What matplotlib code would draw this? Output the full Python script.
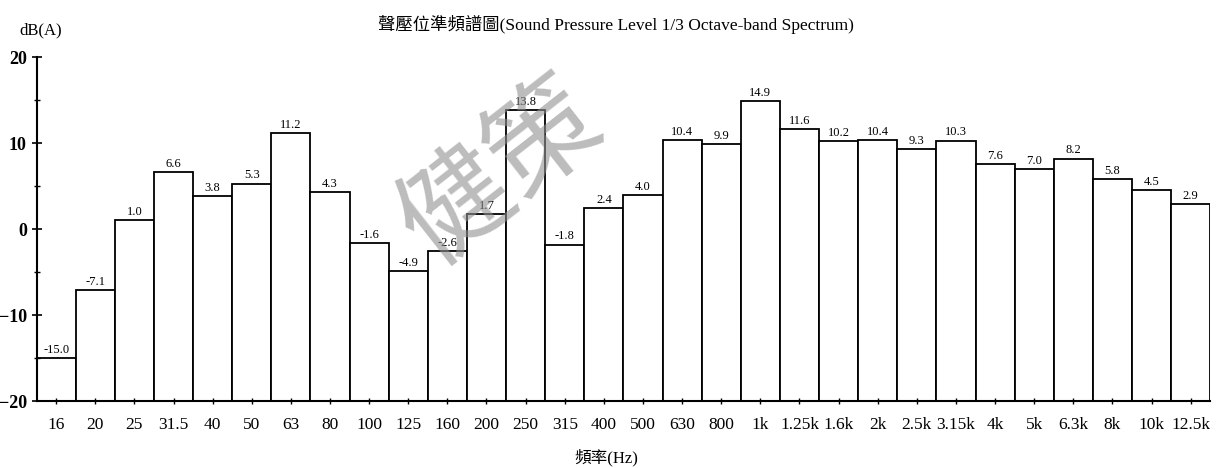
import numpy as np
import matplotlib.pyplot as plt

plt.rcParams['font.family'] = ['Liberation Serif', 'Noto Sans CJK TC']

bands = ['16', '20', '25', '31.5', '40', '50', '63', '80', '100', '125', '160',
         '200', '250', '315', '400', '500', '630', '800', '1k', '1.25k', '1.6k',
         '2k', '2.5k', '3.15k', '4k', '5k', '6.3k', '8k', '10k', '12.5k']
levels = [-15.0, -7.1, 1.0, 6.6, 3.8, 5.3, 11.2, 4.3, -1.6, -4.9, -2.6,
          1.7, 13.8, -1.8, 2.4, 4.0, 10.4, 9.9, 14.9, 11.6, 10.2,
          10.4, 9.3, 10.3, 7.6, 7.0, 8.2, 5.8, 4.5, 2.9]
base = -20

fig = plt.figure(figsize=(12.2, 4.68), dpi=100)
ax = fig.add_axes([0.030, 0.143, 0.962, 0.735])

x = np.arange(len(bands))
h = np.array(levels) - base
ax.bar(x, h, bottom=base, width=1.0, color='white', edgecolor='black', linewidth=1.3)

for xi, v in zip(x, levels):
    ax.text(xi, v + 0.25, f'{v:.1f}', ha='center', va='bottom', fontsize=9)

ax.set_xlim(-0.5, len(bands) - 0.5)
ax.set_ylim(base, 20)
ax.set_yticks([-20, -10, 0, 10, 20])
ax.set_yticks([-15, -5, 5, 15], minor=True)
ax.set_xticks(x)
ax.set_xticklabels(bands, fontsize=12.5)
ax.tick_params(axis='y', labelsize=13, direction='inout', length=7, width=1.2)
ax.tick_params(axis='y', which='minor', direction='inout', length=5, width=1)
ax.tick_params(axis='x', direction='inout', length=5, width=1, pad=9)
for lbl in ax.get_yticklabels():
    lbl.set_fontweight('bold')

ax.spines['top'].set_visible(False)
ax.spines['right'].set_visible(False)
ax.spines['left'].set_linewidth(1.5)
ax.spines['bottom'].set_linewidth(1.5)
ax.spines['left'].set_bounds(-20, 20)

fig.text(0.505, 0.948, '聲壓位準頻譜圖(Sound Pressure Level 1/3 Octave-band Spectrum)',
         ha='center', va='center', fontsize=12.5)
fig.text(0.016, 0.935, 'dB(A)', ha='left', va='center', fontsize=12)
fig.text(0.497, 0.022, '頻率(Hz)', ha='center', va='center', fontsize=12)

# watermark
fig.text(0.41, 0.63, '健策', ha='center', va='center', fontsize=80,
         color='#909090', alpha=0.6, rotation=38, family=['Noto Sans CJK TC'])

fig.savefig('out.png', dpi=100)
